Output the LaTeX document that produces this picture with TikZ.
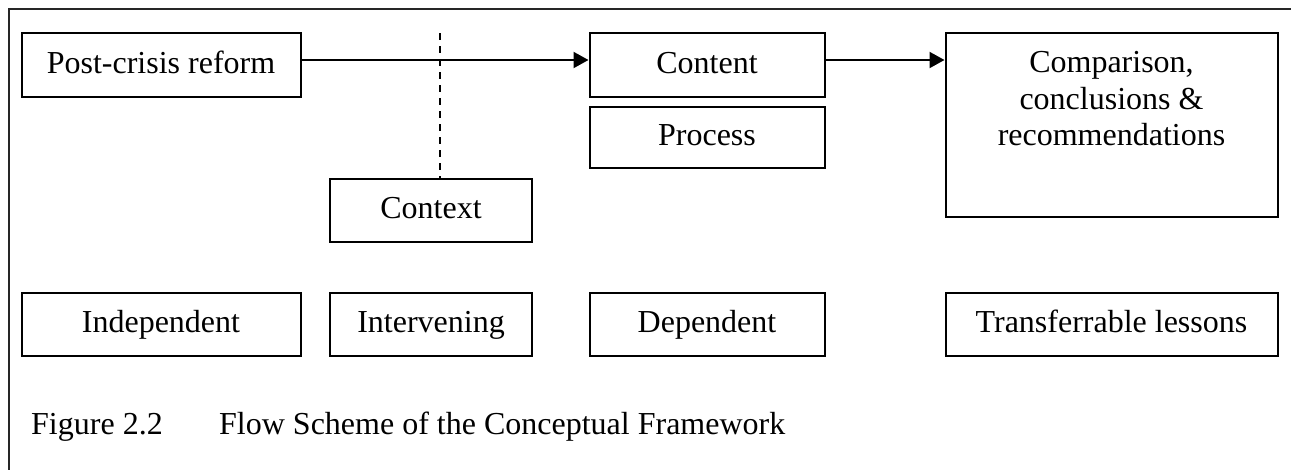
\documentclass[tikz,border=0pt]{standalone}
\usepackage{fontspec}
\setmainfont{Liberation Serif}
\usetikzlibrary{arrows.meta}
\begin{document}
\begin{tikzpicture}[x=1pt,y=-1pt,
  every node/.style={font=\fontsize{32}{36.8}\selectfont},
  boxnode/.style={draw, line width=2pt, rectangle, inner sep=0pt, text height=22pt, text depth=6pt},
  arr/.style={line width=2pt, -{Triangle[length=15pt,width=16pt]}},
  frameline/.style={line width=2pt, draw=black!85}]
\useasboundingbox (0,0) rectangle (1291,469);
% outer frame (only top and left edges are within the picture)
\draw[frameline] (1295,8.5) -- (9,8.5) -- (9,475);
% top row
\node[boxnode, minimum width=279pt, minimum height=64pt] (post) at (161,65) {Post-crisis reform};
\node[boxnode, minimum width=235pt, minimum height=64pt] (content) at (707,65) {Content};
\node[boxnode, minimum width=235pt, minimum height=61pt] (process) at (707,137.5) {Process};
\node[boxnode, minimum width=332pt, minimum height=184pt] (comp) at (1111.5,125) {};
\node[anchor=north, align=center, inner sep=0pt] (comptext) at ([yshift=-19pt]comp.north) {Comparison,\\conclusions \&\\recommendations};
\node[boxnode, minimum width=202pt, minimum height=63pt] (context) at (431,210.5) {Context};
% dashed line
\coordinate (dtop) at (439.5,33);
\draw[dash pattern=on 7pt off 6pt, line width=2pt] (dtop) -- (dtop |- context.north);
% arrows
\draw[arr] ([yshift=5pt]post.east) -- ([yshift=5pt]content.west);
\draw[arr] ([yshift=5pt]content.east) -- ([yshift=5pt]content.east -| comp.west);
% bottom row
\node[boxnode, minimum width=279pt, minimum height=63pt] (indep) at (161,324) {Independent};
\node[boxnode, minimum width=202pt, minimum height=63pt] (interv) at (431,324) {Intervening};
\node[boxnode, minimum width=235pt, minimum height=63pt] (dep) at (707,324) {Dependent};
\node[boxnode, minimum width=332pt, minimum height=63pt] (trans) at (1111.5,324) {Transferrable lessons};
% caption
\node[anchor=base west, inner sep=0pt] (figlabel) at (31,434) {Figure 2.2};
\node[anchor=base west, inner sep=0pt] (figtitle) at (219,434) {Flow Scheme of the Conceptual Framework};
\end{tikzpicture}
\end{document}
